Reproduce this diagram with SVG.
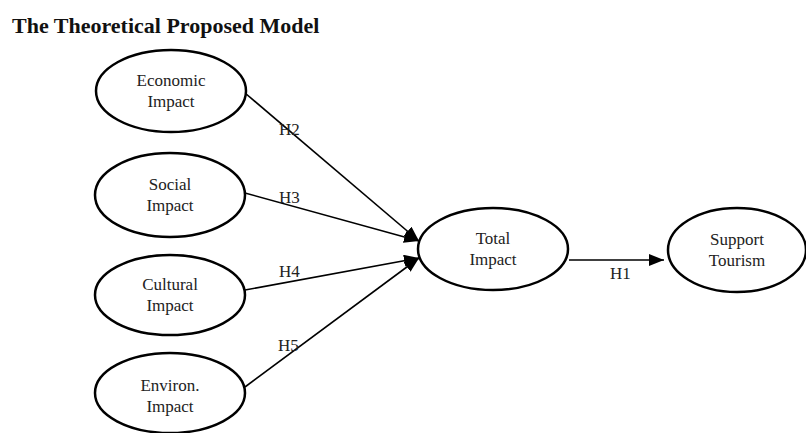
<svg xmlns="http://www.w3.org/2000/svg" width="806" height="433" viewBox="0 0 806 433">
<defs>
<marker id="arr" markerUnits="userSpaceOnUse" markerWidth="16" markerHeight="12" refX="15" refY="6" orient="auto">
<path d="M0,0 L15,6 L0,12 Z" fill="#000"/>
</marker>
<style>
.node ellipse{fill:#fff;stroke:#000;stroke-width:2.5}
.node text,.lbl{font-family:"Liberation Serif","Times New Roman",serif;font-size:17px;fill:#222}
.node text{text-anchor:middle}
.title{font-family:"Liberation Serif","Times New Roman",serif;font-size:22px;font-weight:bold;fill:#111}
#connectors line{stroke:#000;stroke-width:1.6;marker-end:url(#arr)}
</style>
</defs>
<rect width="806" height="433" fill="#fff"/>
<text class="title" x="12" y="33">The Theoretical Proposed Model</text>
<g id="connectors">
<line x1="245" y1="93" x2="419" y2="241"/>
<line x1="245" y1="193" x2="419" y2="241"/>
<line x1="245" y1="290" x2="419" y2="258"/>
<line x1="245" y1="387" x2="419" y2="258"/>
<line x1="569" y1="260" x2="664" y2="260"/>
<text class="lbl" x="279" y="135">H2</text>
<text class="lbl" x="279" y="203">H3</text>
<text class="lbl" x="279" y="277">H4</text>
<text class="lbl" x="278" y="351">H5</text>
<text class="lbl" x="610" y="279">H1</text>
</g>
<g id="economic" class="node">
<ellipse cx="171" cy="91" rx="75" ry="41"/>
<text x="171" y="86">Economic</text>
<text x="171" y="107">Impact</text>
</g>
<g id="social" class="node">
<ellipse cx="170" cy="195" rx="75" ry="42"/>
<text x="170" y="190">Social</text>
<text x="170" y="211">Impact</text>
</g>
<g id="cultural" class="node">
<ellipse cx="170" cy="295" rx="75" ry="40"/>
<text x="170" y="290">Cultural</text>
<text x="170" y="311">Impact</text>
</g>
<g id="environ" class="node">
<ellipse cx="170" cy="393" rx="75" ry="40"/>
<text x="170" y="391">Environ.</text>
<text x="170" y="412">Impact</text>
</g>
<g id="total" class="node">
<ellipse cx="493" cy="249" rx="75" ry="41"/>
<text x="493" y="244">Total</text>
<text x="493" y="265">Impact</text>
</g>
<g id="support" class="node">
<ellipse cx="737" cy="250" rx="69" ry="42"/>
<text x="737" y="245">Support</text>
<text x="737" y="266">Tourism</text>
</g>
</svg>
